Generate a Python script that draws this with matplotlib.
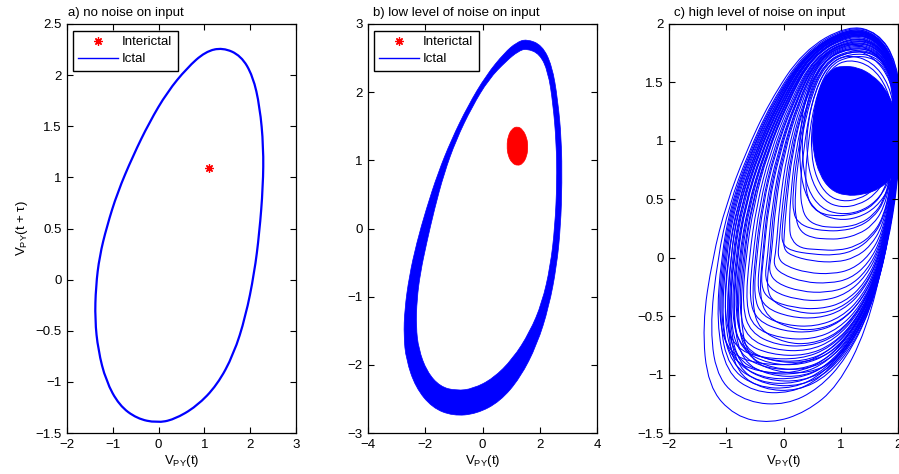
import numpy as np
import matplotlib
matplotlib.use("Agg")
import matplotlib.pyplot as plt
from matplotlib.path import Path
from matplotlib.patches import PathPatch
from matplotlib.lines import Line2D
from matplotlib.ticker import FuncFormatter

plt.rcParams['font.family'] = ['Liberation Sans', 'DejaVu Sans']
plt.rcParams['mathtext.fontset'] = 'custom'
plt.rcParams['mathtext.rm'] = 'Liberation Sans'
plt.rcParams['mathtext.it'] = 'Liberation Sans:italic'

# ---------------- data ----------------
panel_titles = ["a) no noise on input",
                "b) low level of noise on input",
                "c) high level of noise on input"]
legend_labels = ["Interictal", "Ictal"]

# a) noise-free limit cycle (ictal) and fixed point (interictal)
ictal_a = [(1.40, 2.27), (1.80, 2.19), (2.06, 1.99), (2.21, 1.69), (2.29, 1.30),
           (2.28, 0.91), (2.20, 0.456), (2.09, 0.065), (1.90, -0.36), (1.64, -0.73),
           (1.28, -1.03), (0.83, -1.24), (0.33, -1.37), (-0.04, -1.40), (-0.47, -1.36),
           (-0.86, -1.23), (-1.15, -0.99), (-1.32, -0.69), (-1.39, -0.39), (-1.37, -0.066),
           (-1.29, 0.228), (-1.13, 0.52), (-0.90, 0.85), (-0.56, 1.21), (-0.20, 1.54),
           (0.19, 1.835), (0.62, 2.07), (1.02, 2.23)]
interictal_a_x = [1.10]
interictal_a_y = [1.09]

# b) low noise: ictal band (outer / inner edge) and interictal cloud outline
ictal_b_outer = [(1.54, 2.78), (2.08, 2.69), (2.43, 2.39), (2.63, 1.89), (2.76, 1.30),
                 (2.78, 0.67), (2.73, 0.03), (2.59, -0.555), (2.32, -1.15), (1.91, -1.70),
                 (1.32, -2.19), (0.61, -2.54), (-0.21, -2.72), (-1.03, -2.75), (-1.76, -2.63),
                 (-2.34, -2.33), (-2.67, -1.92), (-2.75, -1.58), (-2.72, -1.19), (-2.56, -0.70),
                 (-2.30, -0.21), (-1.97, 0.28), (-1.56, 0.81), (-1.09, 1.30), (-0.51, 1.80),
                 (0.13, 2.25), (0.77, 2.58), (1.19, 2.73)]
ictal_b_inner = [(1.54, 2.64), (2.00, 2.56), (2.29, 2.30), (2.46, 1.84), (2.58, 1.25),
                 (2.60, 0.67), (2.53, 0.03), (2.37, -0.555), (2.08, -1.09), (1.65, -1.52),
                 (1.06, -1.91), (0.37, -2.20), (-0.33, -2.35), (-0.91, -2.38), (-1.48, -2.32),
                 (-1.94, -2.10), (-2.23, -1.77), (-2.32, -1.44), (-2.29, -1.04), (-2.17, -0.65),
                 (-1.95, -0.21), (-1.68, 0.28), (-1.34, 0.81), (-0.92, 1.30), (-0.37, 1.78),
                 (0.22, 2.19), (0.84, 2.46), (1.25, 2.60)]
interictal_b = [(1.22, 1.50), (1.41, 1.45), (1.55, 1.33), (1.59, 1.20), (1.55, 1.06),
                (1.41, 0.95), (1.22, 0.92), (1.03, 0.96), (0.89, 1.07), (0.85, 1.21),
                (0.89, 1.35), (1.02, 1.46)]

# c) high noise: dense core of the attractor and individual trajectory loops
ictal_c_core = [(1.02, 1.64), (1.30, 1.63), (1.56, 1.56), (1.78, 1.45), (1.94, 1.28),
                (2.05, 1.05), (2.05, 0.82), (1.88, 0.68), (1.68, 0.59), (1.40, 0.54),
                (1.08, 0.53), (0.82, 0.58), (0.63, 0.71), (0.52, 0.90), (0.50, 1.10),
                (0.56, 1.34), (0.69, 1.53), (0.86, 1.62)]

ictal_c_loops = [
    # outermost excursions
    [(1.12, 1.99), (0.34, 1.77), (-0.25, 1.33), (-0.66, 0.90), (-1.00, 0.46), (-1.24, 0.0),
     (-1.42, -0.58), (-1.32, -1.10), (-0.85, -1.36), (-0.22, -1.42), (0.40, -1.32), (0.95, -1.10),
     (1.45, -0.62), (1.78, 0.05), (1.98, 0.62), (2.08, 1.20), (1.98, 1.68), (1.65, 1.93)],
    [(1.12, 1.98), (0.36, 1.76), (-0.22, 1.32), (-0.62, 0.89), (-0.95, 0.45), (-1.15, 0.0),
     (-1.29, -0.62), (-1.14, -1.06), (-0.62, -1.24), (0.05, -1.26), (0.62, -1.12), (1.10, -0.86),
     (1.52, -0.45), (1.82, 0.10), (2.00, 0.65), (2.08, 1.22), (1.97, 1.68), (1.64, 1.93)],
    # main bulk
    [(1.12, 1.97), (0.37, 1.75), (-0.20, 1.32), (-0.60, 0.89), (-0.92, 0.45), (-1.09, 0.0),
     (-1.17, -0.56), (-1.00, -0.98), (-0.52, -1.15), (0.12, -1.16), (0.66, -1.03), (1.14, -0.76),
     (1.55, -0.38), (1.83, 0.15), (2.00, 0.70), (2.07, 1.24), (1.96, 1.67), (1.63, 1.92)],
    [(1.13, 1.97), (0.39, 1.75), (-0.17, 1.32), (-0.57, 0.89), (-0.88, 0.45), (-1.05, 0.0),
     (-1.12, -0.55), (-0.96, -0.94), (-0.46, -1.11), (0.18, -1.12), (0.70, -0.99), (1.17, -0.72),
     (1.56, -0.34), (1.84, 0.18), (2.00, 0.72), (2.06, 1.25), (1.95, 1.67), (1.62, 1.92)],
    [(1.11, 1.96), (0.38, 1.75), (-0.18, 1.32), (-0.58, 0.89), (-0.90, 0.45), (-1.07, 0.0),
     (-1.14, -0.52), (-0.95, -0.82), (-0.45, -0.91), (0.25, -0.92), (0.78, -0.81), (1.22, -0.58),
     (1.58, -0.24), (1.85, 0.24), (2.00, 0.74), (2.05, 1.26), (1.95, 1.67), (1.62, 1.91)],
    [(1.14, 1.96), (0.40, 1.75), (-0.14, 1.32), (-0.53, 0.89), (-0.84, 0.45), (-1.01, 0.0),
     (-1.08, -0.55), (-0.92, -0.91), (-0.42, -1.07), (0.22, -1.08), (0.73, -0.96), (1.19, -0.70),
     (1.57, -0.32), (1.84, 0.20), (1.99, 0.73), (2.05, 1.26), (1.95, 1.67), (1.62, 1.91)],
    [(1.13, 1.95), (0.42, 1.75), (-0.11, 1.32), (-0.50, 0.89), (-0.80, 0.45), (-0.97, 0.0),
     (-1.04, -0.54), (-0.88, -0.88), (-0.40, -1.03), (0.25, -1.04), (0.76, -0.93), (1.21, -0.67),
     (1.58, -0.30), (1.84, 0.22), (1.99, 0.74), (2.04, 1.27), (1.94, 1.67), (1.62, 1.91)],
    [(1.15, 1.95), (0.43, 1.75), (-0.09, 1.32), (-0.47, 0.89), (-0.77, 0.45), (-0.93, 0.0),
     (-1.00, -0.53), (-0.84, -0.86), (-0.36, -0.99), (0.28, -1.00), (0.78, -0.89), (1.22, -0.64),
     (1.58, -0.28), (1.85, 0.24), (1.99, 0.75), (2.04, 1.27), (1.94, 1.66), (1.62, 1.90)],
    [(1.12, 1.94), (0.44, 1.74), (-0.07, 1.32), (-0.45, 0.89), (-0.74, 0.45), (-0.90, 0.0),
     (-0.97, -0.58), (-0.80, -0.95), (-0.32, -1.09), (0.30, -1.10), (0.82, -0.97), (1.26, -0.69),
     (1.60, -0.31), (1.86, 0.21), (1.99, 0.73), (2.04, 1.26), (1.94, 1.66), (1.61, 1.90)],
    [(1.14, 1.94), (0.45, 1.74), (-0.05, 1.32), (-0.43, 0.89), (-0.71, 0.45), (-0.87, 0.0),
     (-0.94, -0.52), (-0.78, -0.83), (-0.30, -0.95), (0.30, -0.96), (0.80, -0.86), (1.24, -0.61),
     (1.59, -0.26), (1.85, 0.26), (1.98, 0.76), (2.03, 1.28), (1.93, 1.66), (1.61, 1.90)],
    [(1.16, 1.93), (0.46, 1.74), (-0.03, 1.32), (-0.40, 0.89), (-0.68, 0.45), (-0.84, 0.0),
     (-0.91, -0.50), (-0.75, -0.77), (-0.27, -0.88), (0.35, -0.89), (0.84, -0.79), (1.27, -0.56),
     (1.61, -0.21), (1.86, 0.29), (1.98, 0.77), (2.03, 1.28), (1.93, 1.65), (1.61, 1.89)],
    [(1.13, 1.93), (0.47, 1.74), (-0.01, 1.32), (-0.38, 0.89), (-0.66, 0.45), (-0.81, 0.0),
     (-0.88, -0.55), (-0.72, -0.89), (-0.24, -1.01), (0.35, -1.02), (0.85, -0.90), (1.27, -0.64),
     (1.61, -0.27), (1.86, 0.24), (1.98, 0.75), (2.03, 1.27), (1.93, 1.65), (1.60, 1.89)],
    [(1.15, 1.92), (0.48, 1.73), (0.01, 1.32), (-0.35, 0.89), (-0.62, 0.45), (-0.78, 0.0),
     (-0.85, -0.48), (-0.70, -0.73), (-0.22, -0.83), (0.38, -0.84), (0.87, -0.74), (1.29, -0.52),
     (1.62, -0.18), (1.86, 0.31), (1.98, 0.78), (2.02, 1.29), (1.92, 1.65), (1.60, 1.88)],
    [(1.14, 1.92), (0.49, 1.73), (0.03, 1.32), (-0.33, 0.89), (-0.59, 0.45), (-0.74, 0.0),
     (-0.81, -0.53), (-0.66, -0.84), (-0.18, -0.95), (0.40, -0.96), (0.88, -0.85), (1.29, -0.60),
     (1.62, -0.24), (1.86, 0.27), (1.98, 0.76), (2.02, 1.28), (1.92, 1.65), (1.60, 1.88)],
    [(1.16, 1.91), (0.50, 1.73), (0.05, 1.32), (-0.30, 0.89), (-0.56, 0.45), (-0.71, 0.0),
     (-0.78, -0.46), (-0.63, -0.69), (-0.16, -0.79), (0.42, -0.80), (0.90, -0.70), (1.31, -0.48),
     (1.63, -0.15), (1.86, 0.33), (1.97, 0.79), (2.01, 1.29), (1.92, 1.64), (1.60, 1.87)],
    [(1.12, 1.96), (0.40, 1.75), (-0.15, 1.32), (-0.55, 0.89), (-0.86, 0.45), (-1.03, 0.0),
     (-1.10, -0.55), (-0.92, -0.87), (-0.44, -0.98), (0.20, -0.99), (0.74, -0.88), (1.20, -0.63),
     (1.57, -0.27), (1.84, 0.23), (1.99, 0.74), (2.05, 1.26), (1.95, 1.67), (1.62, 1.91)],
    [(1.13, 1.95), (0.42, 1.75), (-0.10, 1.32), (-0.48, 0.89), (-0.78, 0.45), (-0.93, 0.0),
     (-0.99, -0.60), (-0.83, -0.98), (-0.35, -1.13), (0.25, -1.14), (0.78, -1.01), (1.24, -0.73),
     (1.59, -0.34), (1.85, 0.19), (1.99, 0.72), (2.04, 1.25), (1.94, 1.66), (1.62, 1.91)],
    [(1.15, 1.93), (0.46, 1.74), (-0.02, 1.32), (-0.39, 0.89), (-0.67, 0.45), (-0.82, 0.0),
     (-0.89, -0.51), (-0.74, -0.79), (-0.26, -0.91), (0.32, -0.92), (0.83, -0.82), (1.26, -0.58),
     (1.61, -0.23), (1.86, 0.28), (1.98, 0.77), (2.03, 1.28), (1.93, 1.65), (1.61, 1.89)],
    [(1.14, 1.95), (0.41, 1.75), (-0.12, 1.32), (-0.51, 0.89), (-0.81, 0.45), (-0.98, 0.0),
     (-1.04, -0.50), (-0.86, -0.77), (-0.38, -0.86), (0.30, -0.87), (0.82, -0.77), (1.25, -0.55),
     (1.60, -0.21), (1.86, 0.28), (1.99, 0.77), (2.04, 1.28), (1.94, 1.66), (1.62, 1.90)],
    [(1.13, 1.94), (0.44, 1.74), (-0.06, 1.32), (-0.44, 0.89), (-0.73, 0.45), (-0.88, 0.0),
     (-0.95, -0.56), (-0.78, -0.92), (-0.30, -1.05), (0.33, -1.06), (0.84, -0.94), (1.27, -0.67),
     (1.61, -0.29), (1.86, 0.22), (1.99, 0.74), (2.04, 1.27), (1.94, 1.66), (1.61, 1.90)],
    [(1.15, 1.92), (0.49, 1.73), (0.02, 1.32), (-0.34, 0.89), (-0.61, 0.45), (-0.76, 0.0),
     (-0.83, -0.50), (-0.68, -0.78), (-0.20, -0.89), (0.40, -0.90), (0.89, -0.80), (1.30, -0.56),
     (1.62, -0.21), (1.86, 0.29), (1.98, 0.77), (2.02, 1.28), (1.92, 1.65), (1.60, 1.88)],
    [(1.14, 1.91), (0.50, 1.73), (0.06, 1.32), (-0.29, 0.89), (-0.55, 0.45), (-0.69, 0.0),
     (-0.76, -0.55), (-0.60, -0.87), (-0.12, -0.98), (0.45, -0.99), (0.92, -0.88), (1.32, -0.62),
     (1.63, -0.25), (1.86, 0.26), (1.98, 0.76), (2.02, 1.28), (1.92, 1.65), (1.60, 1.88)],
    # intermediate loops
    [(1.15, 1.90), (0.51, 1.73), (0.07, 1.32), (-0.28, 0.89), (-0.52, 0.45), (-0.66, 0.0),
     (-0.72, -0.42), (-0.58, -0.64), (-0.12, -0.75), (0.45, -0.76), (0.93, -0.67), (1.33, -0.45),
     (1.64, -0.13), (1.87, 0.35), (1.97, 0.80), (2.01, 1.30), (1.91, 1.64), (1.60, 1.86)],
    [(1.16, 1.89), (0.53, 1.72), (0.10, 1.32), (-0.24, 0.89), (-0.47, 0.45), (-0.60, 0.0),
     (-0.66, -0.40), (-0.52, -0.60), (-0.06, -0.69), (0.50, -0.70), (0.96, -0.61), (1.35, -0.41),
     (1.65, -0.10), (1.87, 0.37), (1.97, 0.81), (2.01, 1.30), (1.91, 1.63), (1.60, 1.85)],
    [(1.15, 1.88), (0.54, 1.72), (0.13, 1.32), (-0.20, 0.89), (-0.42, 0.45), (-0.54, 0.0),
     (-0.60, -0.36), (-0.46, -0.54), (0.00, -0.63), (0.52, -0.64), (0.98, -0.56), (1.36, -0.37),
     (1.66, -0.07), (1.87, 0.39), (1.96, 0.82), (2.00, 1.31), (1.90, 1.63), (1.60, 1.85)],
    [(1.16, 1.87), (0.56, 1.71), (0.16, 1.32), (-0.15, 0.89), (-0.36, 0.45), (-0.47, 0.0),
     (-0.52, -0.33), (-0.38, -0.50), (0.06, -0.58), (0.55, -0.59), (1.01, -0.51), (1.38, -0.33),
     (1.66, -0.04), (1.87, 0.41), (1.96, 0.83), (2.00, 1.31), (1.90, 1.63), (1.60, 1.84)],
    [(1.17, 1.86), (0.57, 1.71), (0.19, 1.32), (-0.11, 0.89), (-0.31, 0.45), (-0.41, 0.0),
     (-0.46, -0.28), (-0.32, -0.43), (0.12, -0.51), (0.60, -0.52), (1.04, -0.45), (1.40, -0.28),
     (1.67, 0.00), (1.87, 0.43), (1.96, 0.84), (1.99, 1.32), (1.90, 1.62), (1.60, 1.83)],
    [(1.16, 1.85), (0.58, 1.70), (0.21, 1.32), (-0.07, 0.89), (-0.26, 0.45), (-0.35, 0.0),
     (-0.40, -0.24), (-0.26, -0.36), (0.18, -0.43), (0.65, -0.44), (1.07, -0.38), (1.42, -0.22),
     (1.68, 0.04), (1.87, 0.46), (1.95, 0.85), (1.99, 1.32), (1.89, 1.62), (1.60, 1.82)],
    [(1.17, 1.84), (0.60, 1.70), (0.24, 1.32), (-0.03, 0.89), (-0.20, 0.45), (-0.28, 0.0),
     (-0.33, -0.18), (-0.19, -0.29), (0.24, -0.36), (0.70, -0.37), (1.10, -0.31), (1.44, -0.16),
     (1.69, 0.08), (1.87, 0.48), (1.95, 0.86), (1.98, 1.33), (1.89, 1.62), (1.60, 1.81)],
    [(1.16, 1.83), (0.61, 1.69), (0.27, 1.32), (0.01, 0.89), (-0.14, 0.45), (-0.21, 0.02),
     (-0.26, -0.12), (-0.12, -0.22), (0.30, -0.29), (0.75, -0.30), (1.14, -0.25), (1.46, -0.11),
     (1.70, 0.12), (1.87, 0.50), (1.95, 0.87), (1.98, 1.33), (1.88, 1.61), (1.60, 1.80)],
    [(1.15, 1.88), (0.55, 1.72), (0.15, 1.32), (-0.17, 0.89), (-0.38, 0.45), (-0.50, 0.0),
     (-0.55, -0.40), (-0.42, -0.62), (0.03, -0.73), (0.48, -0.74), (0.95, -0.65), (1.35, -0.43),
     (1.65, -0.11), (1.87, 0.36), (1.97, 0.81), (2.01, 1.30), (1.91, 1.64), (1.60, 1.85)],
    [(1.17, 1.86), (0.58, 1.71), (0.20, 1.32), (-0.09, 0.89), (-0.28, 0.45), (-0.37, 0.0),
     (-0.42, -0.32), (-0.29, -0.51), (0.14, -0.61), (0.58, -0.62), (1.02, -0.54), (1.39, -0.35),
     (1.67, -0.05), (1.87, 0.40), (1.96, 0.83), (2.00, 1.31), (1.90, 1.63), (1.60, 1.84)],
    [(1.17, 1.82), (0.63, 1.69), (0.30, 1.32), (0.06, 0.89), (-0.07, 0.45), (-0.13, 0.06),
     (-0.18, -0.06), (-0.04, -0.14), (0.36, -0.21), (0.80, -0.22), (1.17, -0.18), (1.48, -0.05),
     (1.71, 0.16), (1.87, 0.52), (1.94, 0.88), (1.97, 1.33), (1.88, 1.61), (1.60, 1.79)],
    [(1.16, 1.84), (0.60, 1.70), (0.25, 1.32), (-0.01, 0.89), (-0.17, 0.45), (-0.24, 0.0),
     (-0.30, -0.26), (-0.17, -0.39), (0.25, -0.47), (0.68, -0.48), (1.08, -0.41), (1.43, -0.24),
     (1.69, 0.03), (1.87, 0.46), (1.95, 0.85), (1.98, 1.32), (1.89, 1.62), (1.60, 1.82)],
    # loops close to the core
    [(1.16, 1.81), (0.65, 1.68), (0.33, 1.32), (0.10, 0.89), (-0.02, 0.45), (-0.08, 0.12),
     (-0.10, 0.0), (0.03, -0.07), (0.42, -0.13), (0.85, -0.14), (1.20, -0.10), (1.50, 0.02),
     (1.72, 0.21), (1.87, 0.55), (1.94, 0.89), (1.97, 1.33), (1.88, 1.61), (1.60, 1.78)],
    [(1.17, 1.80), (0.67, 1.68), (0.36, 1.32), (0.15, 0.89), (0.05, 0.45), (0.01, 0.18),
     (0.00, 0.08), (0.12, 0.02), (0.50, -0.03), (0.92, -0.04), (1.25, 0.00), (1.52, 0.10),
     (1.73, 0.27), (1.87, 0.58), (1.94, 0.90), (1.96, 1.34), (1.87, 1.60), (1.60, 1.77)],
    [(1.16, 1.78), (0.70, 1.67), (0.40, 1.32), (0.20, 0.89), (0.12, 0.50), (0.10, 0.25),
     (0.14, 0.15), (0.30, 0.08), (0.60, 0.07), (0.95, 0.06), (1.28, 0.10), (1.54, 0.19),
     (1.74, 0.34), (1.87, 0.61), (1.93, 0.92), (1.95, 1.34), (1.86, 1.60), (1.60, 1.76)],
    [(1.17, 1.77), (0.72, 1.66), (0.44, 1.32), (0.27, 0.89), (0.20, 0.55), (0.21, 0.33),
     (0.30, 0.22), (0.50, 0.17), (0.75, 0.16), (1.00, 0.16), (1.31, 0.20), (1.56, 0.28),
     (1.75, 0.42), (1.86, 0.64), (1.93, 0.93), (1.94, 1.34), (1.86, 1.59), (1.60, 1.75)],
    [(1.16, 1.75), (0.75, 1.65), (0.48, 1.32), (0.34, 0.89), (0.29, 0.60), (0.32, 0.42),
     (0.42, 0.32), (0.62, 0.27), (0.85, 0.26), (1.05, 0.26), (1.34, 0.29), (1.58, 0.37),
     (1.75, 0.49), (1.86, 0.68), (1.92, 0.95), (1.93, 1.34), (1.85, 1.58), (1.60, 1.73)],
    [(1.17, 1.73), (0.78, 1.64), (0.53, 1.32), (0.41, 0.89), (0.38, 0.66), (0.42, 0.51),
     (0.52, 0.42), (0.70, 0.37), (0.90, 0.36), (1.08, 0.36), (1.36, 0.39), (1.59, 0.46),
     (1.75, 0.57), (1.85, 0.73), (1.91, 0.97), (1.92, 1.34), (1.84, 1.57), (1.60, 1.71)],
    [(1.15, 1.80), (0.66, 1.68), (0.35, 1.32), (0.13, 0.89), (0.02, 0.45), (-0.03, 0.22),
     (-0.02, 0.12), (0.12, 0.06), (0.50, 0.03), (0.90, 0.02), (1.24, 0.06), (1.52, 0.16),
     (1.73, 0.31), (1.87, 0.59), (1.94, 0.91), (1.96, 1.34), (1.87, 1.60), (1.60, 1.77)],
    [(1.17, 1.77), (0.71, 1.67), (0.42, 1.32), (0.24, 0.89), (0.16, 0.55), (0.17, 0.38),
     (0.26, 0.30), (0.46, 0.25), (0.74, 0.23), (1.00, 0.23), (1.30, 0.26), (1.56, 0.34),
     (1.75, 0.47), (1.86, 0.66), (1.93, 0.94), (1.94, 1.34), (1.86, 1.59), (1.60, 1.75)],
    # orbits hugging the core
    [(1.12, 1.74), (0.80, 1.66), (0.56, 1.44), (0.42, 1.15), (0.40, 0.88), (0.50, 0.64),
     (0.72, 0.48), (1.00, 0.43), (1.30, 0.45), (1.58, 0.53), (1.80, 0.68), (1.93, 0.92),
     (1.96, 1.20), (1.85, 1.48), (1.55, 1.68)],
    [(1.10, 1.80), (0.74, 1.70), (0.48, 1.46), (0.34, 1.15), (0.32, 0.85), (0.42, 0.58),
     (0.66, 0.42), (0.98, 0.37), (1.32, 0.39), (1.62, 0.48), (1.84, 0.64), (1.97, 0.90),
     (2.00, 1.20), (1.88, 1.52), (1.56, 1.73)],
    [(1.14, 1.70), (0.84, 1.63), (0.62, 1.43), (0.50, 1.16), (0.48, 0.90), (0.57, 0.68),
     (0.77, 0.53), (1.03, 0.48), (1.32, 0.50), (1.58, 0.58), (1.78, 0.72), (1.90, 0.94),
     (1.92, 1.20), (1.82, 1.45), (1.54, 1.64)],
    [(1.08, 1.85), (0.70, 1.74), (0.44, 1.48), (0.30, 1.16), (0.27, 0.84), (0.36, 0.55),
     (0.60, 0.38), (0.95, 0.32), (1.30, 0.34), (1.62, 0.43), (1.86, 0.60), (1.99, 0.88),
     (2.02, 1.20), (1.90, 1.55), (1.57, 1.78)],
]

xlims = [(-2, 3), (-4, 4), (-2, 2)]
ylims = [(-1.5, 2.5), (-3, 3), (-1.5, 2)]
xticks = [np.arange(-2, 3.01, 1), np.arange(-4, 4.01, 2), np.arange(-2, 2.01, 1)]
yticks = [np.arange(-1.5, 2.51, 0.5), np.arange(-3, 3.01, 1), np.arange(-1.5, 2.01, 0.5)]

BLUE = (0, 0, 1)
RED = (1, 0, 0)
FS = 9.5


def smooth_closed(points):
    """Closed quadratic-spline path whose control polygon is *points*."""
    p = np.asarray(points, dtype=float)
    mids = (p + np.roll(p, -1, axis=0)) / 2.0
    verts = [mids[-1]]
    codes = [Path.MOVETO]
    for i in range(len(p)):
        verts += [p[i], mids[i]]
        codes += [Path.CURVE3, Path.CURVE3]
    return Path(verts, codes)


def fmt(v, _pos):
    return f"{v:g}".replace("-", "\u2212")


fig = plt.figure(figsize=(8.99, 4.74), dpi=100)
lefts = [67 / 899, 368 / 899, 669 / 899]
axes = [fig.add_axes([l, 41 / 474, 229 / 899, 409 / 474]) for l in lefts]

for i, ax in enumerate(axes):
    ax.set_xlim(*xlims[i])
    ax.set_ylim(*ylims[i])
    ax.set_xticks(xticks[i])
    ax.set_yticks(yticks[i])
    ax.xaxis.set_major_formatter(FuncFormatter(fmt))
    ax.yaxis.set_major_formatter(FuncFormatter(fmt))
    ax.tick_params(direction='in', top=True, right=True, length=4, width=0.8,
                   labelsize=FS, pad=4, colors='black')
    for s in ax.spines.values():
        s.set_linewidth(0.9)
    ax.text(0.005 if i == 0 else 0.02, 1.012, panel_titles[i], transform=ax.transAxes,
            ha='left', va='bottom', fontsize=FS)
    ax.set_xlabel('V$_{\\mathrm{PY}}$(t)', fontsize=FS, labelpad=2)

axes[0].set_ylabel('V$_{\\mathrm{PY}}$(t + \u03c4)', fontsize=FS, labelpad=4)

# a) limit cycle and fixed point
ax = axes[0]
ax.add_patch(PathPatch(smooth_closed(ictal_a), facecolor='none', edgecolor=BLUE, lw=1.6))
ax.plot(interictal_a_x, interictal_a_y, linestyle='none', marker=(8, 2, 0),
        color=RED, markersize=6, mew=0.9)

# b) noisy band and interictal cloud
ax = axes[1]
band = Path.make_compound_path(smooth_closed(ictal_b_outer),
                               smooth_closed(ictal_b_inner[::-1]))
ax.add_patch(PathPatch(band, facecolor=BLUE, edgecolor=BLUE, lw=0.5))
ax.add_patch(PathPatch(smooth_closed(interictal_b), facecolor=RED, edgecolor=RED, lw=0.5))

# c) many irregular loops around a dense core
ax = axes[2]
ax.add_patch(PathPatch(smooth_closed(ictal_c_core), facecolor=BLUE, edgecolor=BLUE, lw=0.6))
for loop in ictal_c_loops:
    ax.add_patch(PathPatch(smooth_closed(loop), facecolor='none', edgecolor=BLUE, lw=0.75))

# legends (panels a and b)
for ax in axes[:2]:
    handles = [Line2D([], [], linestyle='none', marker=(8, 2, 0), color=RED,
                      markersize=6, mew=0.9),
               Line2D([], [], color=BLUE, lw=1.0)]
    leg = ax.legend(handles, legend_labels, loc='upper left',
                    bbox_to_anchor=(0.027, 0.983), borderaxespad=0, fancybox=False,
                    edgecolor='black', framealpha=1, handlelength=3.0,
                    handletextpad=0.3, borderpad=0.4, labelspacing=0.35,
                    fontsize=FS)
    leg.get_frame().set_linewidth(1.0)

fig.savefig('out.png', dpi=100)
